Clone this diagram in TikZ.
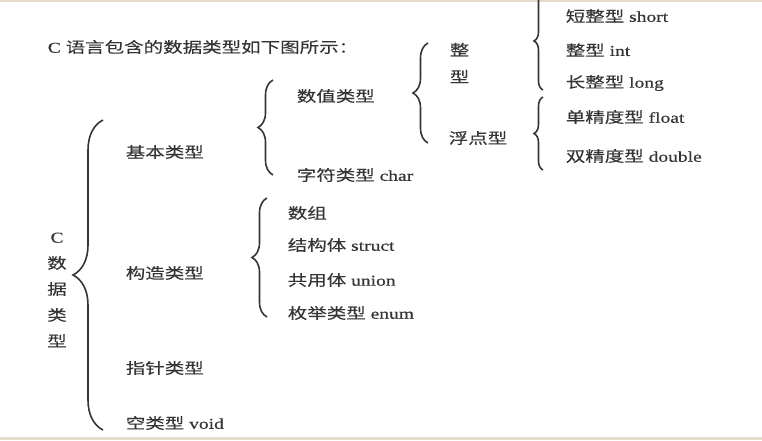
\documentclass[tikz,border=0pt]{standalone}
\usepackage{fontspec}
\setmainfont{Liberation Serif}[FakeStretch=1.3,FakeBold=0.6]
\newfontfamily\cjk{Noto Sans CJK SC}[FakeStretch=1.3,FakeBold=0.2]
\usepackage{tikz}
\usetikzlibrary{decorations.pathreplacing}
\definecolor{ink}{HTML}{353535}
\definecolor{edge}{HTML}{E6DCCB}
\tikzset{every picture/.style={x=1pt,y=-1pt,line width=1.6pt},
lbl/.style={anchor=west,inner sep=0pt,text=ink,font=\fontsize{15}{18}\selectfont},
brace/.style={draw=ink,decorate,decoration={brace,amplitude=#1}}}

\begin{document}
\begin{tikzpicture}
\useasboundingbox (0,0) rectangle (762,440);
\clip (0,0) rectangle (762,440);
\fill[edge] (0,0) rectangle (762,1.5);
\fill[edge] (0,437) rectangle (762,440);
\node (title) [lbl] at (47,47) {C {\cjk 语言包含的数据类型如下图所示：}};
\node (root) [lbl,anchor=center,align=center,font=\fontsize{15}{26}\selectfont] at (57,290) {C\\{\cjk 数}\\{\cjk 据}\\{\cjk 类}\\{\cjk 型}};
% first level
\node (jb) [lbl] at (125,152) {{\cjk 基本类型}};
\node (gz) [lbl] at (125,273) {{\cjk 构造类型}};
\node (zz) [lbl] at (125,368) {{\cjk 指针类型}};
\node (kl) [lbl] at (125,423) {{\cjk 空类型} void};
% second level
\node (sz) [lbl] at (296,96) {{\cjk 数值类型}};
\node (zf) [lbl] at (296,175) {{\cjk 字符类型} char};
\node (zx) [lbl,align=center,font=\cjk\fontsize{15}{27}\selectfont] at (449,63) {整\\型};
\node (fd) [lbl] at (448,138) {{\cjk 浮点型}};
\foreach \n/\z/\e/\y in {1/短整型/short/16, 2/整型/int/50, 3/长整型/long/83, 4/单精度型/float/117, 5/双精度型/double/156}
\node (t\n) [lbl] at (565,\y) {{\cjk \z} \e};
\foreach \n/\z/\e/\y in {1/数组//213, 2/结构体/struct/245, 3/共用体/union/280, 4/枚举类型/enum/313}
\node (g\n) [lbl] at (287,\y) {{\cjk \z} \e};
% braces
\foreach \n/\x/\ya/\yb/\a in {0/103/120/430/30, 1/273/80/175/15, 2/428/43/143/15, 3/543/-8/90/9, 4/543/97/170/9, 5/267/198/317/15} {
\coordinate (bt\n) at (\x,\ya);
\coordinate (bb\n) at (\x,\yb);
\draw[brace=\a] (bb\n) -- (bt\n);
}
\end{tikzpicture}
\end{document}
